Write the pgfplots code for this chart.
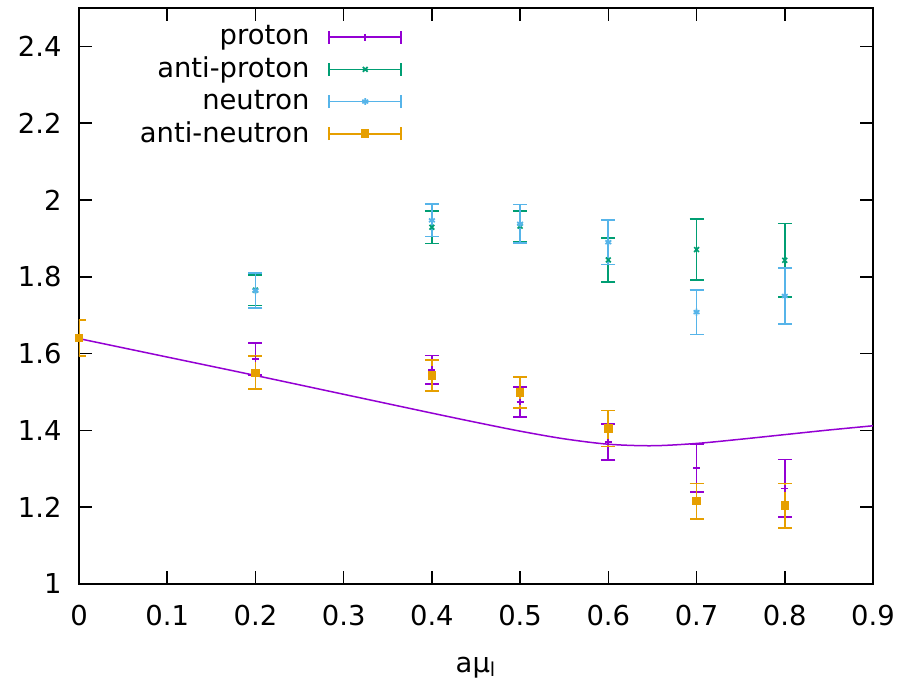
\documentclass[border=0pt]{standalone}
\usepackage{fontspec}
\setmainfont{DejaVu Sans}
\usepackage{pgfplots}
\pgfplotsset{compat=1.18}
\definecolor{gpurple}{RGB}{148,0,211}
\definecolor{ggreen}{RGB}{0,158,115}
\definecolor{gcyan}{RGB}{86,180,233}
\definecolor{gorange}{RGB}{230,159,0}
\pgfplotsset{
  gp/.style={only marks, line width=0.85pt, mark size=1.7pt,
    mark options={solid, line width=0.85pt},
    error bars/.cd, y dir=both, y explicit,
    error bar style={line width=0.85pt, solid},
    error mark options={rotate=90, mark size=3.5pt, line width=0.85pt}},
}
\begin{document}
\fontsize{13.7}{16}\selectfont
\begin{tikzpicture}
\useasboundingbox (-39.5pt,-49.5pt) rectangle (416.5pt,292pt);
\begin{axis}[
  scale only axis, width=397pt, height=288pt,
  xmin=0, xmax=0.9, ymin=1, ymax=2.5,
  xtick={0,0.1,0.2,0.3,0.4,0.5,0.6,0.7,0.8,0.9},
  ytick={1,1.2,1.4,1.6,1.8,2,2.2,2.4},
  tick align=inside, major tick length=6.5pt,
  every tick/.style={black, line width=0.8pt},
  axis line style={line width=1pt},
  tick label style={font=\fontsize{13.7}{16}\selectfont},
  /pgf/number format/assume math mode=true,
  xticklabel style={yshift=-6pt},
  yticklabel style={xshift=-4pt},
  xlabel={aμ\textsubscript{l}},
  xlabel style={font=\fontsize{13.7}{16}\selectfont, yshift=-6pt},
  legend plot pos=right,
  legend cell align=right,
  legend style={draw=none, fill=none, at={(0.415,0.984)}, anchor=north east,
    column sep=7.5pt,
    font=\fontsize{13.7}{16}\selectfont},
  legend image code/.code={
    \draw[#1, mark=none, solid] (0pt,0pt) -- (36pt,0pt);
    \draw[#1, mark=none, solid] (0pt,-3.25pt) -- (0pt,3.25pt);
    \draw[#1, mark=none, solid] (36pt,-3.25pt) -- (36pt,3.25pt);
    \draw[#1] plot coordinates {(18pt,0pt)};
  },
]
\addplot[gpurple, line width=0.75pt, smooth, no marks, forget plot] coordinates {
 (0,1.639) (0.1,1.591) (0.2,1.543) (0.3,1.494) (0.4,1.445) (0.45,1.421)
 (0.5,1.398) (0.55,1.378) (0.6,1.364) (0.65,1.360) (0.7,1.366) (0.75,1.377)
 (0.8,1.389) (0.85,1.401) (0.9,1.412)};
\addplot[gpurple, mark=+, gp] coordinates {
 (0.2,1.586) +- (0,0.041)
 (0.4,1.558) +- (0,0.037)
 (0.5,1.474) +- (0,0.039)
 (0.6,1.370) +- (0,0.047)
 (0.7,1.302) +- (0,0.062)
 (0.8,1.249) +- (0,0.075)};
\addlegendentry{proton}
\addplot[ggreen, mark=x, gp] coordinates {
 (0.2,1.765) +- (0,0.040)
 (0.4,1.929) +- (0,0.042)
 (0.5,1.932) +- (0,0.040)
 (0.6,1.844) +- (0,0.057)
 (0.7,1.871) +- (0,0.079)
 (0.8,1.843) +- (0,0.096)};
\addlegendentry{anti-proton}
\addplot[gcyan, mark=asterisk, gp] coordinates {
 (0.2,1.764) +- (0,0.045)
 (0.4,1.947) +- (0,0.042)
 (0.5,1.938) +- (0,0.050)
 (0.6,1.890) +- (0,0.058)
 (0.7,1.708) +- (0,0.058)
 (0.8,1.750) +- (0,0.073)};
\addlegendentry{neutron}
\addplot[gorange, mark=square*, mark size=1.3pt, gp] coordinates {
 (0.0,1.641) +- (0,0.047)
 (0.2,1.550) +- (0,0.043)
 (0.4,1.543) +- (0,0.041)
 (0.5,1.499) +- (0,0.040)
 (0.6,1.405) +- (0,0.047)
 (0.7,1.216) +- (0,0.046)
 (0.8,1.204) +- (0,0.058)};
\addlegendentry{anti-neutron}
\end{axis}
\end{tikzpicture}
\end{document}
